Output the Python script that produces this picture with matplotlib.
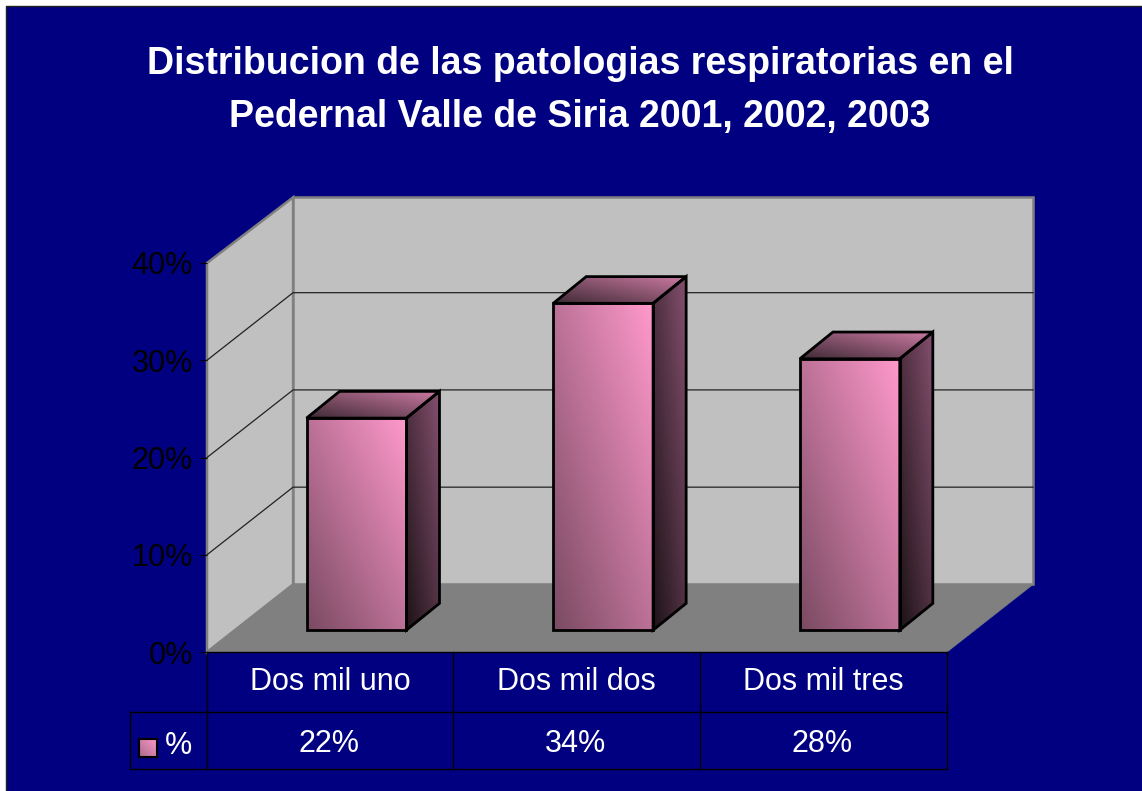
#!/usr/bin/env python3
"""
Distribucion de las patologias respiratorias - 3D style column chart with data table
"""

import numpy as np
import matplotlib
matplotlib.use('Agg')
import matplotlib.pyplot as plt
from matplotlib.lines import Line2D
from matplotlib.patches import Polygon, Rectangle

W, H = 1142, 791

title_lines = ['Distribucion de las patologias respiratorias en el',
               'Pedernal Valle de Siria 2001, 2002, 2003']
categories = ['Dos mil uno', 'Dos mil dos', 'Dos mil tres']
bar_values = [21.8, 33.6, 27.9]
table_labels = ['22%', '34%', '28%']
y_ticks = [0, 10, 20, 30, 40]
series_name = '%'

NAVY = '#000080'
WALL = '#c0c0c0'
FLOOR = '#808080'
FONT = 'Liberation Sans'
TABLE_SIZE = 22

# depth of the box and of the bars, in axis units
DEPTH_X, DEPTH_Y = 0.349, 6.95
BAR_W = 0.405
BAR_DX, BAR_DY = 0.134, 2.75


def px(x, y):
    """Figure fraction from reference pixel position"""
    return x / W, 1 - y / H


def gradient(c0, c1):
    """Diagonal gradient going from c0 (bottom left) to c1 (top right)"""
    c0 = np.array(matplotlib.colors.to_rgb(c0))
    c1 = np.array(matplotlib.colors.to_rgb(c1))
    xx, yy = np.meshgrid(np.linspace(0, 1, 64), np.linspace(0, 1, 64))
    t = ((xx + yy) / 2)[..., None]
    return c0 + (c1 - c0) * t


def shaded_face(ax, pts, c0, c1):
    """Polygon face filled with a gradient and a black outline"""
    pts = np.array(pts)
    im = ax.imshow(gradient(c0, c1), origin='lower', aspect='auto', zorder=5,
                   extent=(pts[:, 0].min(), pts[:, 0].max(), pts[:, 1].min(), pts[:, 1].max()))
    clip = Polygon(pts, closed=True, transform=ax.transData)
    im.set_clip_path(clip)
    ax.add_patch(Polygon(pts, closed=True, fill=False, edgecolor='black', linewidth=2.0,
                         joinstyle='miter', zorder=6, clip_on=False))


def draw_walls(ax, top):
    dx, dy = DEPTH_X, DEPTH_Y
    back_top = top + dy - 0.2
    ax.add_patch(Polygon([(0, 0), (dx, dy), (dx, back_top), (0, top)], closed=True,
                         facecolor=WALL, edgecolor=FLOOR, linewidth=1.8, zorder=1, clip_on=False))
    ax.add_patch(Polygon([(dx, dy), (3 + dx, dy), (3 + dx, back_top), (dx, back_top)], closed=True,
                         facecolor=WALL, edgecolor=FLOOR, linewidth=1.8, zorder=1, clip_on=False))
    ax.add_patch(Polygon([(0, 0), (3, 0), (3 + dx, dy), (dx, dy)], closed=True,
                         facecolor=FLOOR, edgecolor=FLOOR, linewidth=0.5, zorder=2, clip_on=False))

    # gridlines run along the side wall and then the back wall
    for v in y_ticks[1:-1]:
        ax.plot([0, dx, 3 + dx], [v, v + dy, v + dy], color='#222222', linewidth=0.9,
                zorder=2, clip_on=False)


def draw_bars(ax):
    for i, v in enumerate(bar_values):
        x0 = i + 0.5 - BAR_W / 2 + BAR_DX - 0.028
        x1 = x0 + BAR_W
        y0 = 2.25
        y1 = y0 + v
        dx, dy = BAR_DX, BAR_DY
        # side, top, then front
        shaded_face(ax, [(x1, y0), (x1 + dx, y0 + dy), (x1 + dx, y1 + dy), (x1, y1)], '#1c1216', '#85506f')
        shaded_face(ax, [(x0, y1), (x1, y1), (x1 + dx, y1 + dy), (x0 + dx, y1 + dy)], '#3f2a35', '#cc7aa3')
        shaded_face(ax, [(x0, y0), (x1, y0), (x1, y1), (x0, y1)], '#7a4a62', '#ff99cc')


def draw_table(fig):
    """Data table under the plot, on the navy background"""
    rows = [(207, 652, 947, 652), (207, 712, 947, 712), (130, 712, 130, 769),
            (130, 769, 947, 769), (130, 712, 207, 712),
            (207, 652, 207, 769), (453, 652, 453, 769), (700, 652, 700, 769), (947, 652, 947, 769)]
    for x0, y0, x1, y1 in rows:
        a, b = px(x0, y0), px(x1, y1)
        fig.add_artist(Line2D([a[0], b[0]], [a[1], b[1]], color='black', linewidth=1.0, zorder=3))

    centers = [330, 576, 823]
    for cx, cat, lab in zip(centers, categories, table_labels):
        x, y = px(cx, 682)
        fig.text(x, y, cat, color='white', fontsize=TABLE_SIZE, family=FONT, ha='center', va='center')
        x, y = px(cx - 1, 744)
        fig.text(x, y, lab, color='white', fontsize=TABLE_SIZE, family=FONT, ha='center', va='center')

    x, y = px(179, 746)
    fig.text(x, y, series_name, color='white', fontsize=TABLE_SIZE, family=FONT, ha='center', va='center')

    # legend key
    key = fig.add_axes([139 / W, 1 - 757 / H, 18 / W, 18 / H])
    key.imshow(gradient('#a86a8b', '#ff99cc'), origin='lower', aspect='auto')
    key.set_xticks([])
    key.set_yticks([])
    for s in key.spines.values():
        s.set_linewidth(1.5)
        s.set_color('black')


def main():
    fig = plt.figure(figsize=(W / 100, H / 100), dpi=100, facecolor='white')

    # navy slide background with thin dark border at left and top
    x, y = px(6, 791)
    fig.add_artist(Rectangle((x, y), 1 - x, 1 - 6 / H - y, transform=fig.transFigure,
                             facecolor=NAVY, edgecolor='none', zorder=-5))
    a, b, c = px(6, 791), px(6, 6), px(1142, 6)
    fig.add_artist(Line2D([a[0], b[0], c[0]], [a[1], b[1], c[1]], color='#222222', linewidth=1.0, zorder=-4))

    for line, yy in zip(title_lines, [64, 117]):
        x, y = px(580, yy)
        fig.text(x, y, line, color='white', fontsize=27, fontweight='bold', family=FONT,
                 ha='center', va='center')

    ax = fig.add_axes([207 / W, 1 - 652 / H, 740 / W, 389 / H])
    ax.patch.set_visible(False)
    draw_walls(ax, y_ticks[-1])
    draw_bars(ax)

    ax.set_xlim(0, len(categories))
    ax.set_ylim(0, y_ticks[-1])
    ax.set_xticks([])
    ax.set_yticks(y_ticks)
    ax.set_yticklabels([f'{v}%' for v in y_ticks], family=FONT, fontsize=22, color='black')
    ax.tick_params(axis='y', length=5, width=0.8, pad=5, color='black')
    for s in ax.spines.values():
        s.set_visible(False)

    draw_table(fig)

    fig.savefig('out.png', dpi=100, facecolor='white')


if __name__ == "__main__":
    main()
